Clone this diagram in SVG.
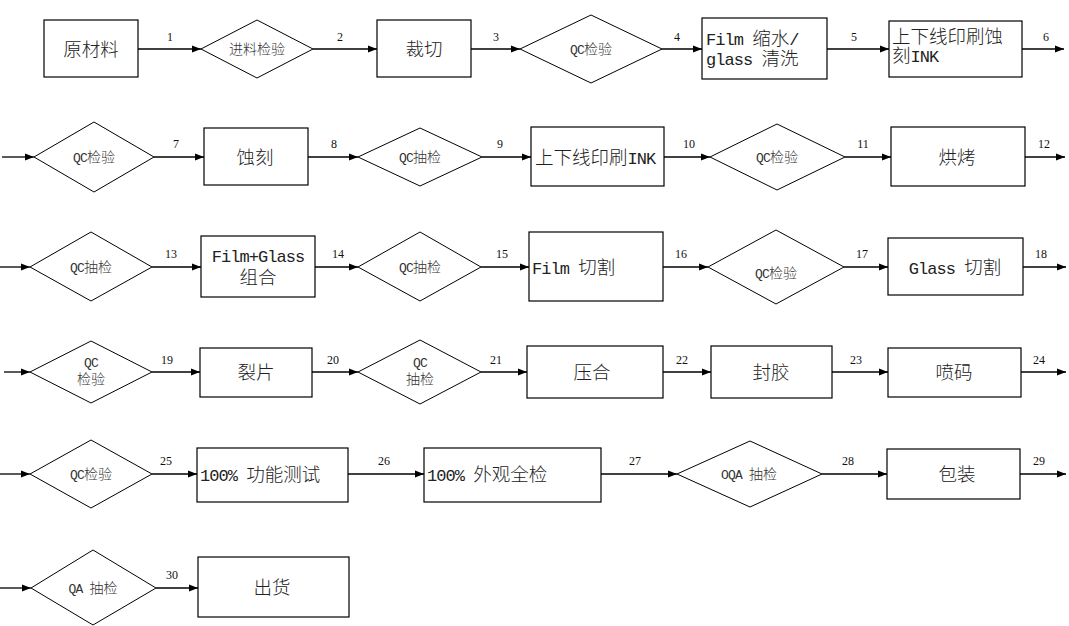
<svg xmlns="http://www.w3.org/2000/svg" width="1069" height="626" viewBox="0 0 1069 626">
<style>
.box{fill:#fff;stroke:#000;stroke-width:1.2}
.dia{fill:#fff;stroke:#000;stroke-width:1}
.t{font-family:"Noto Sans CJK SC","Noto Sans",sans-serif;font-size:18.5px;font-weight:300;fill:#222}
.tc{text-anchor:middle}
.ts{font-family:"Noto Sans CJK SC","Noto Sans",sans-serif;font-size:14px;font-weight:300;fill:#333;text-anchor:middle}
.l{font-family:"Liberation Mono",monospace;font-size:17px;letter-spacing:-0.95px}
.ls{font-family:"Liberation Mono",monospace;font-size:13px;letter-spacing:-0.8px}
.n{font-family:"Liberation Serif",serif;font-size:12px;text-anchor:middle;fill:#111}
.c line{stroke:#000;stroke-width:1.3;marker-end:url(#a)}
</style>
<defs>
<marker id="a" markerUnits="userSpaceOnUse" markerWidth="9" markerHeight="8" refX="9" refY="4" orient="auto">
<path d="M0,0.5 L9,4 L0,7.5 z" fill="#000"/>
</marker>
</defs>
<rect width="1069" height="626" fill="#fff"/>

<g id="connectors" class="c">
<line x1="138" y1="49" x2="201" y2="49"/>
<line x1="313" y1="49" x2="377" y2="49"/>
<line x1="471" y1="49" x2="520" y2="49"/>
<line x1="662" y1="49" x2="702" y2="49"/>
<line x1="827" y1="49" x2="889" y2="49"/>
<line x1="1022" y1="49" x2="1064" y2="49"/>
<line x1="2" y1="157" x2="34" y2="157"/>
<line x1="154" y1="157" x2="204" y2="157"/>
<line x1="308" y1="157" x2="358" y2="157"/>
<line x1="482" y1="157" x2="531" y2="157"/>
<line x1="664" y1="157" x2="710" y2="157"/>
<line x1="845" y1="157" x2="891" y2="157"/>
<line x1="1025" y1="157" x2="1065" y2="157"/>
<line x1="0" y1="267" x2="30" y2="267"/>
<line x1="152" y1="267" x2="201" y2="267"/>
<line x1="315" y1="267" x2="358" y2="267"/>
<line x1="481" y1="267" x2="529" y2="267"/>
<line x1="663" y1="267" x2="708" y2="267"/>
<line x1="844" y1="267" x2="888" y2="267"/>
<line x1="1023" y1="267" x2="1066" y2="267"/>
<line x1="4" y1="372" x2="30" y2="372"/>
<line x1="152" y1="372" x2="200" y2="372"/>
<line x1="312" y1="372" x2="358" y2="372"/>
<line x1="481" y1="372" x2="527" y2="372"/>
<line x1="663" y1="372" x2="711" y2="372"/>
<line x1="832" y1="372" x2="888" y2="372"/>
<line x1="1021" y1="372" x2="1066" y2="372"/>
<line x1="0" y1="474" x2="30" y2="474"/>
<line x1="152" y1="474" x2="197" y2="474"/>
<line x1="348" y1="474" x2="424" y2="474"/>
<line x1="601" y1="474" x2="677" y2="474"/>
<line x1="822" y1="474" x2="887" y2="474"/>
<line x1="1020" y1="474" x2="1066" y2="474"/>
<line x1="0" y1="588" x2="31" y2="588"/>
<line x1="156" y1="588" x2="198" y2="588"/>
<g class="labels">
<text class="n" x="170" y="41">1</text>
<text class="n" x="340" y="41">2</text>
<text class="n" x="496" y="41">3</text>
<text class="n" x="677" y="41">4</text>
<text class="n" x="854" y="41">5</text>
<text class="n" x="1046" y="41">6</text>
<text class="n" x="176" y="148">7</text>
<text class="n" x="334" y="148">8</text>
<text class="n" x="500" y="148">9</text>
<text class="n" x="689" y="148">10</text>
<text class="n" x="863" y="148">11</text>
<text class="n" x="1044" y="148">12</text>
<text class="n" x="171" y="258">13</text>
<text class="n" x="338" y="258">14</text>
<text class="n" x="502" y="258">15</text>
<text class="n" x="681" y="258">16</text>
<text class="n" x="862" y="258">17</text>
<text class="n" x="1041" y="258">18</text>
<text class="n" x="167" y="364">19</text>
<text class="n" x="333" y="364">20</text>
<text class="n" x="496" y="364">21</text>
<text class="n" x="682" y="364">22</text>
<text class="n" x="856" y="364">23</text>
<text class="n" x="1039" y="364">24</text>
<text class="n" x="166" y="465">25</text>
<text class="n" x="384" y="465">26</text>
<text class="n" x="635" y="465">27</text>
<text class="n" x="848" y="465">28</text>
<text class="n" x="1039" y="465">29</text>
<text class="n" x="172" y="579">30</text>
</g>
</g>

<g id="n1"><rect class="box" x="44" y="20" width="94" height="57"/><text class="t tc" x="91" y="56">原材料</text></g>
<g id="n2"><polygon class="dia" points="201,49 257,20 313,49 257,78"/><text class="ts" x="257" y="54">进料检验</text></g>
<g id="n3"><rect class="box" x="377" y="20" width="94" height="57"/><text class="t tc" x="424" y="56">裁切</text></g>
<g id="n4"><polygon class="dia" points="520,49 591,15 662,49 591,83"/><text class="ts" x="591" y="54"><tspan class="ls">QC</tspan>检验</text></g>
<g id="n5"><rect class="box" x="702" y="18" width="125" height="61"/><text class="t" x="706" y="44.5"><tspan class="l">Film </tspan>缩水<tspan class="l">/</tspan></text><text class="t" x="706" y="64.5"><tspan class="l">glass </tspan>清洗</text></g>
<g id="n6"><rect class="box" x="889" y="21" width="133" height="56"/><text class="t" x="892" y="42.5">上下线印刷蚀</text><text class="t" x="892" y="62">刻<tspan class="l">INK</tspan></text></g>

<g id="n7"><polygon class="dia" points="34,157 94,122 154,157 94,192"/><text class="ts" x="94" y="162"><tspan class="ls">QC</tspan>检验</text></g>
<g id="n8"><rect class="box" x="204" y="128" width="104" height="57"/><text class="t tc" x="255" y="164">蚀刻</text></g>
<g id="n9"><polygon class="dia" points="358,157 420,128 482,157 420,186"/><text class="ts" x="420" y="162"><tspan class="ls">QC</tspan>抽检</text></g>
<g id="n10"><rect class="box" x="531" y="127" width="133" height="59"/><text class="t" x="535" y="164">上下线印刷<tspan class="l">INK</tspan></text></g>
<g id="n11"><polygon class="dia" points="710,157 777,124 845,157 777,190"/><text class="ts" x="777" y="162"><tspan class="ls">QC</tspan>检验</text></g>
<g id="n12"><rect class="box" x="891" y="127" width="134" height="59"/><text class="t tc" x="957" y="164">烘烤</text></g>

<g id="n13"><polygon class="dia" points="30,267 91,232 152,267 91,301"/><text class="ts" x="91" y="272"><tspan class="ls">QC</tspan>抽检</text></g>
<g id="n14"><rect class="box" x="201" y="236" width="114" height="61"/><text class="t tc" x="258" y="262"><tspan class="l">Film+Glass</tspan></text><text class="t tc" x="258" y="284">组合</text></g>
<g id="n15"><polygon class="dia" points="358,267 420,232 481,267 420,301"/><text class="ts" x="420" y="272"><tspan class="ls">QC</tspan>抽检</text></g>
<g id="n16"><rect class="box" x="529" y="232" width="134" height="69"/><text class="t" x="532" y="274"><tspan class="l">Film </tspan>切割</text></g>
<g id="n17"><polygon class="dia" points="708,267 776,230 844,267 776,304"/><text class="ts" x="776" y="278"><tspan class="ls">QC</tspan>检验</text></g>
<g id="n18"><rect class="box" x="888" y="238" width="135" height="57"/><text class="t tc" x="955" y="274"><tspan class="l">Glass </tspan>切割</text></g>

<g id="n19"><polygon class="dia" points="30,372 91,341 152,372 91,403"/><text class="ts" x="91" y="367"><tspan class="ls">QC</tspan></text><text class="ts" x="91" y="384">检验</text></g>
<g id="n20"><rect class="box" x="200" y="348" width="112" height="49"/><text class="t tc" x="256" y="379">裂片</text></g>
<g id="n21"><polygon class="dia" points="358,372 420,340 481,372 420,404"/><text class="ts" x="420" y="367"><tspan class="ls">QC</tspan></text><text class="ts" x="420" y="384">抽检</text></g>
<g id="n22"><rect class="box" x="527" y="346" width="136" height="52"/><text class="t tc" x="592" y="379">压合</text></g>
<g id="n23"><rect class="box" x="711" y="346" width="121" height="52"/><text class="t tc" x="771" y="379">封胶</text></g>
<g id="n24"><rect class="box" x="888" y="348" width="133" height="49"/><text class="t tc" x="954" y="379">喷码</text></g>

<g id="n25"><polygon class="dia" points="30,474 91,440 152,474 91,508"/><text class="ts" x="91" y="479"><tspan class="ls">QC</tspan>检验</text></g>
<g id="n26"><rect class="box" x="197" y="448" width="151" height="54"/><text class="t" x="200" y="481"><tspan class="l">100% </tspan>功能测试</text></g>
<g id="n27"><rect class="box" x="424" y="448" width="177" height="54"/><text class="t" x="427" y="481"><tspan class="l">100% </tspan>外观全检</text></g>
<g id="n28"><polygon class="dia" points="677,474 750,441 822,474 750,507"/><text class="ts" x="749" y="479"><tspan class="ls">OQA </tspan>抽检</text></g>
<g id="n29"><rect class="box" x="887" y="449" width="133" height="50"/><text class="t tc" x="957" y="481">包装</text></g>

<g id="n30"><polygon class="dia" points="31,588 93,550 156,588 93,625"/><text class="ts" x="93" y="593"><tspan class="ls">QA </tspan>抽检</text></g>
<g id="n31"><rect class="box" x="198" y="557" width="151" height="60"/><text class="t tc" x="272" y="594">出货</text></g>
</svg>
